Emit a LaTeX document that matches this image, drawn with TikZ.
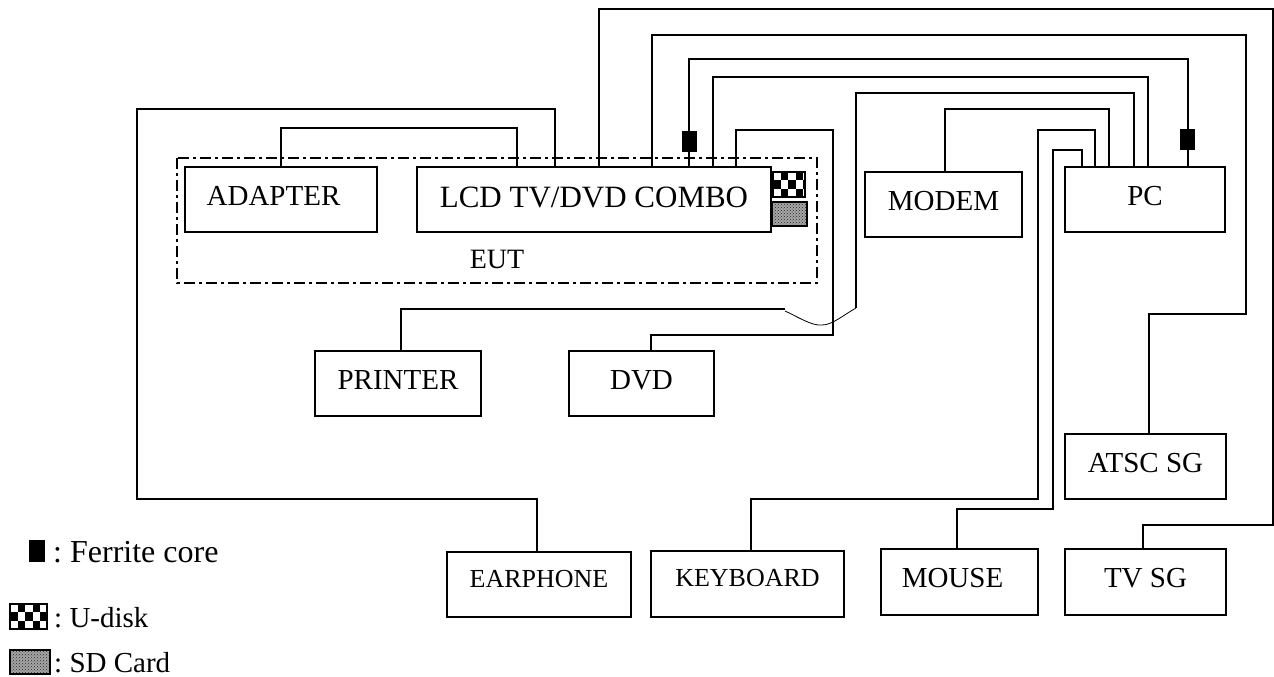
\documentclass[tikz,border=0pt]{standalone}
\usepackage{fontspec}
\setmainfont{Liberation Serif}
\frenchspacing
\usetikzlibrary{patterns}
\tikzset{
	unit/.style n args={2}{draw,line width=1.3pt,inner sep=0pt,outer sep=0pt,anchor=north west,minimum width=#1pt,minimum height=#2pt,text height=19pt,text depth=8pt,font=\fontsize{29}{32}\selectfont},
	wire/.style={line width=1.3pt},
	core/.style={fill=black,inner sep=0pt,outer sep=0pt,minimum width=15pt,minimum height=21pt},
	legendtext/.style={inner sep=0pt,anchor=base west,font=\fontsize{29}{32}\selectfont},
	udisk/.pic={
		\begin{scope}
			\clip (0,0) rectangle (#1,25);
			\foreach \col/\row in {0/1,1/0,1/2,2/1,3/0,3/2,4/1}
				\fill[black] (\col*7.6,\row*8.3) rectangle +(7.6,8.3);
		\end{scope}
		\draw[line width=2pt] (0,0) rectangle (#1,25);
	},
	sdcard/.pic={
		\fill[black!35] (0,0) rectangle (#1,24);
		\fill[pattern=crosshatch dots,pattern color=black!85] (0,0) rectangle (#1,24);
		\draw[line width=1.6pt] (0,0) rectangle (#1,24);
	}
}
\begin{document}
\begin{tikzpicture}[x=1pt,y=-1pt]
	\useasboundingbox (0,0) rectangle (1274,677);
	\draw[line width=1.3pt,dash pattern=on 11pt off 4pt on 3pt off 4pt] (177,158) coordinate (eut) rectangle (817,283);
	\node[inner sep=0pt,font=\fontsize{28}{32}\selectfont] (eutname) at (497,259) {EUT};
	% units
	\node[unit={192}{65}] (adapter) at (185,167) {\hspace*{-15pt}ADAPTER};
	\node[unit={354}{65},text height=21pt,text depth=6pt,font=\fontsize{31}{34}\selectfont] (lcd) at (417,167) {LCD TV/DVD COMBO};
	\node[unit={157}{65}] (modem) at (865,172) {MODEM};
	\node[unit={160}{65}] (pc) at (1065,167) {PC};
	\node[unit={166}{65}] (printer) at (315,351) {PRINTER};
	\node[unit={145}{65}] (dvd) at (569,351) {DVD};
	\node[unit={161}{65}] (atsc) at (1065,434) {ATSC SG};
	\node[unit={184}{65},text height=17pt,text depth=12pt,font=\fontsize{26}{30}\selectfont] (earphone) at (447,552) {EARPHONE};
	\node[unit={193}{66},text height=17pt,text depth=12pt,font=\fontsize{26}{30}\selectfont] (keyboard) at (651,551) {KEYBOARD};
	\node[unit={157}{66}] (mouse) at (881,549) {\hspace*{-14pt}MOUSE};
	\node[unit={161}{66}] (tvsg) at (1065,549) {TV SG};
	% cables
	\draw[wire] (adapter.north) |- (517,128) -- (517,0 |- lcd.north);
	\draw[wire] (537,0 |- earphone.north) |- (137,499) |- (555,109) -- (555,0 |- lcd.north);
	\draw[wire] (599,0 |- lcd.north) |- (1273,9) |- (1143,525) -- (1143,0 |- tvsg.north);
	\draw[wire] (652,0 |- lcd.north) |- (1246,35) |- (1149,314) -- (1149,0 |- atsc.north);
	\draw[wire] (689,0 |- lcd.north) |- (1188,59) -- (1188,0 |- pc.north);
	\draw[wire] (713,0 |- lcd.north) |- (1148,77) -- (1148,0 |- pc.north);
	\draw[wire] (736,0 |- lcd.north) |- (833,130) |- (651,335) -- (651,0 |- dvd.north);
	\draw[wire] (945,0 |- modem.north) |- (1109,109) -- (1109,0 |- pc.north);
	\draw[wire] (751,0 |- keyboard.north) |- (1038,499) |- (1095,130) -- (1095,0 |- pc.north);
	\draw[wire] (957,0 |- mouse.north) |- (1053,509) |- (1082,150) -- (1082,0 |- pc.north);
	\draw[wire] (401,0 |- printer.north) |- (785,309);
	\draw[line width=.8pt] (785,311) .. controls (800,318) and (812,326) .. (822,325) .. controls (832,325) and (842,316) .. (856,308);
	\draw[wire] (856,308) |- (1134,93) -- (1134,0 |- pc.north);
	% ferrite cores
	\node[core] (corelcd) at (689.5,141.5) {};
	\node[core] (corepc) at (1187.5,139) {};
	\node[core,anchor=north west,minimum width=16pt,minimum height=22pt] (corekey) at (29,540) {};
	% storage
	\pic at (773,172) {udisk=32};
	\pic at (772,202) {sdcard=35};
	\pic at (10,604) {udisk=37};
	\pic at (10,650) {sdcard=40};
	% legend
	\node[legendtext,font=\fontsize{32}{36}\selectfont] (ferrite) at (53,562) {: Ferrite core};
	\node[legendtext] (usb) at (54,627) {: U-disk};
	\node[legendtext] (card) at (54,672) {: SD Card};
\end{tikzpicture}
\end{document}
